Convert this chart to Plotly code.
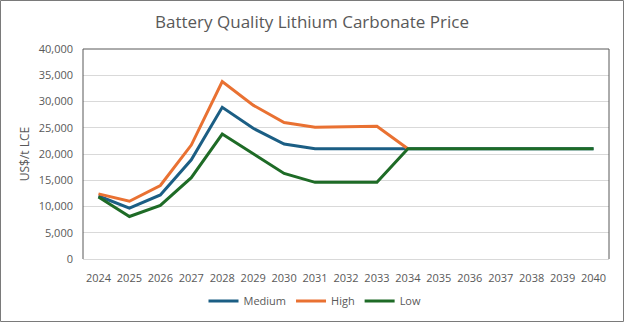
import plotly.graph_objects as go

years = [str(y) for y in range(2024, 2041)]
medium = [12000, 9700, 12200, 18900, 28900, 24900, 21900, 21000, 21000, 21000,
          21000, 21000, 21000, 21000, 21000, 21000, 21000]
high = [12400, 11000, 14000, 21700, 33800, 29300, 26000, 25100, 25200, 25300, 21000]
low = [11800, 8100, 10200, 15500, 23800, 20000, 16300, 14600, 14600, 14600,
       21000, 21000, 21000, 21000, 21000, 21000, 21000]

W, H = 624, 322
ML, MR, MT, MB = 83, 15, 49, 63
PW, PH = W - ML - MR, H - MT - MB

fig = go.Figure()
series = [("Medium", medium, "#1b5e84"), ("High", high, "#e97132"), ("Low", low, "#1e6b26")]
for name, vals, color in series:
    fig.add_trace(go.Scatter(x=years[:len(vals)], y=vals, name=name, mode="lines",
                             line=dict(color=color, width=3)))

FONT = "Open Sans, Arial, sans-serif"
tick_font = dict(family=FONT, size=11, color="#595959")


def px_x(p):
    return (p - ML) / PW


def px_y(p):
    return (H - MB - p) / PH


# chart border and plot-area frame (left, top, right)
shapes = [
    dict(type="rect", xref="paper", yref="paper", x0=px_x(0.5), x1=px_x(W - 0.5),
         y0=px_y(0.5), y1=px_y(H - 0.5), line=dict(color="#7a7a7a", width=1)),
    dict(type="line", xref="paper", yref="paper", x0=0, x1=0, y0=0, y1=1,
         line=dict(color="#595959", width=1)),
    dict(type="line", xref="paper", yref="paper", x0=0, x1=1, y0=1, y1=1,
         line=dict(color="#595959", width=1)),
    dict(type="line", xref="paper", yref="paper", x0=1, x1=1, y0=0, y1=1,
         line=dict(color="#595959", width=1)),
]

fig.update_layout(
    width=W, height=H,
    margin=dict(l=ML, r=MR, t=MT, b=MB, autoexpand=False),
    paper_bgcolor="white", plot_bgcolor="white",
    title=dict(text="Battery Quality Lithium Carbonate Price", x=0.5, xanchor="center",
               y=1 - 22 / H, yanchor="middle",
               font=dict(family=FONT, size=17, color="#595959")),
    xaxis=dict(type="category", range=[-0.5, 16.5], showgrid=False, tickfont=tick_font,
               showline=True, linecolor="#d9d9d9", linewidth=1, ticks="",
               ticklabelstandoff=9, fixedrange=True, automargin=False),
    yaxis=dict(range=[0, 40000], dtick=5000, tickformat=",d", showgrid=True,
               gridcolor="#d9d9d9", gridwidth=1, zeroline=False, tickfont=tick_font,
               ticklabelstandoff=9, automargin=False,
               title=dict(text="US$/t LCE", font=dict(family=FONT, size=12, color="#595959"),
                          standoff=6)),
    legend=dict(orientation="h", x=315 / W, xanchor="center", xref="container",
                y=1 - 301 / H, yanchor="middle", yref="container",
                font=tick_font, itemwidth=30, tracegroupgap=0),
    shapes=shapes,
    showlegend=True,
)

fig.write_html("out.html")
